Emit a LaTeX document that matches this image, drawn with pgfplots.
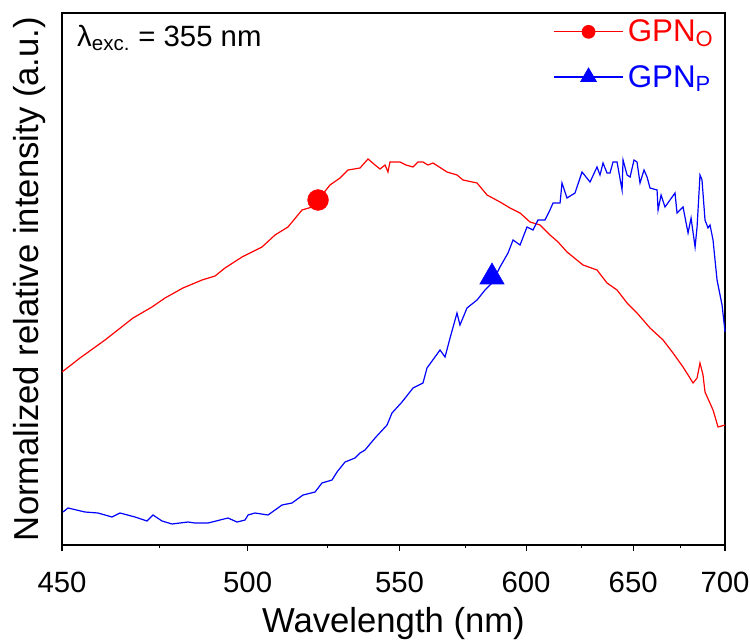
\documentclass[border=0pt]{standalone}
\usepackage{fontspec}
\setmainfont{Liberation Sans}
\usepackage{pgfplots}
\usepackage{pgfplotstable}
\pgfplotsset{compat=1.18}
% x = 1000/wavelength (1/um); axis is linear in photon energy
\pgfplotstableread{
x y
2.2222 173
2.2007 187
2.1707 205
2.1372 227
2.1145 238
2.0989 247
2.0774 257
2.0546 265
2.0390 269
2.0271 277
2.0067 288
1.9828 298
1.9672 310
1.9517 318
1.9349 335
1.9229 338
1.9157 345
1.9014 360
1.8894 367
1.8798 375
1.8655 377
1.8559 386
1.8475 380
1.8415 376
1.8355 380
1.8320 373
1.8296 383
1.8176 383
1.8104 380
1.8020 378
1.7960 383
1.7901 383
1.7841 380
1.7781 382
1.7613 373
1.7494 370
1.7422 365
1.7254 362
1.7134 350
1.6979 343
1.6859 337
1.6739 332
1.6620 323
1.6500 320
1.6380 310
1.6284 303
1.6177 293
1.5985 280
1.5818 275
1.5698 262
1.5578 255
1.5458 242
1.5339 232
1.5183 217
1.5027 205
1.4908 192
1.4788 178
1.4668 162
1.4620 167
1.4585 182
1.4549 170
1.4525 153
1.4429 135
1.4369 118
1.4285 120
}\redtab
\pgfplotstableread{
x y
2.2210 33
2.2150 37
2.1947 33
2.1791 32
2.1623 28
2.1528 32
2.1348 28
2.1205 24
2.1133 30
2.1025 24
2.0905 21
2.0714 23
2.0630 22
2.0474 22
2.0235 27
2.0127 23
2.0031 25
1.9995 30
1.9912 32
1.9756 30
1.9588 40
1.9469 42
1.9337 50
1.9193 53
1.9110 62
1.8990 65
1.8930 73
1.8834 83
1.8715 87
1.8655 92
1.8595 95
1.8475 107
1.8331 120
1.8272 132
1.8152 143
1.8020 157
1.7901 162
1.7853 177
1.7697 195
1.7637 188
1.7577 207
1.7494 232
1.7458 220
1.7374 237
1.7254 245
1.7158 255
1.7075 262
1.6979 278
1.6883 292
1.6823 305
1.6739 300
1.6656 318
1.6584 315
1.6524 325
1.6440 325
1.6392 333
1.6344 342
1.6260 342
1.6237 362
1.6177 347
1.6081 352
1.5997 373
1.5901 363
1.5818 378
1.5782 370
1.5746 382
1.5698 372
1.5662 372
1.5626 383
1.5578 383
1.5518 355
1.5506 385
1.5458 370
1.5422 368
1.5375 385
1.5339 383
1.5303 362
1.5255 375
1.5219 368
1.5183 357
1.5099 355
1.5087 335
1.5051 350
1.5004 338
1.4944 345
1.4884 352
1.4860 332
1.4788 338
1.4728 312
1.4692 327
1.4644 298
1.4620 318
1.4585 370
1.4561 365
1.4525 325
1.4489 317
1.4465 320
1.4429 305
1.4381 265
1.4345 250
1.4321 240
1.4285 213
}\bluetab
\begin{document}
\begin{tikzpicture}
\begin{axis}[
  scale only axis, width=497.25pt, height=399pt,
  x dir=reverse,
  xmin=1.428571, xmax=2.222222, ymin=0, ymax=532,
  xtick={2.222222,2,1.818182,1.666667,1.538462,1.428571},
  xticklabels={450,500,550,600,650,700},
  minor xtick={2.105263,1.904762,1.739130,1.6,1.481481},
  ytick=\empty, xtick pos=bottom, tick align=outside,
  major tick length=4.5pt, minor tick length=2.5pt,
  every tick/.style={black, line width=0.8pt},
  axis line style={line width=0.9pt},
  tick label style={font=\fontsize{22}{24}\selectfont},
  xticklabel style={anchor=base, yshift=-31pt},
  xlabel={Wavelength (nm)},
  ylabel={Normalized relative intensity (a.u.)},
  label style={font=\fontsize{26}{28}\selectfont},
  xlabel style={at={(rel axis cs:0.5,0)}, anchor=center, yshift=-59pt},
  ylabel style={at={(rel axis cs:-0.0483,0.5)}, anchor=center},
  legend style={at={(rel axis cs:0.7406,0.99)}, anchor=north west, draw=none, fill=none,
    font=\fontsize{23.5}{25}\selectfont, row sep=14pt, inner sep=0pt,
    nodes={inner sep=1pt}},
  legend cell align=left,
  legend image code/.code={\draw[mark repeat=2,mark phase=2] plot coordinates {(0pt,0pt)(26pt,0pt)(52pt,0pt)};},
  clip=false,
]
\coordinate (bl) at (rel axis cs:0,0);
\coordinate (tr) at (rel axis cs:1,1);
\addplot[red, line width=0.9pt, forget plot] table[x=x,y=y] {\redtab};
\addplot[blue, line width=0.9pt, forget plot] table[x=x,y=y] {\bluetab};
\addplot[red, only marks, mark=*, mark size=7.8pt, forget plot] coordinates {(1.9157,345)};
\addplot[blue, only marks, mark=triangle*, mark size=10.5pt, forget plot] coordinates {(1.7075,268)};
\addlegendimage{red, line width=0.9pt, mark=*, mark size=4.7pt}
\addlegendentry{\hspace{2pt}\textcolor{red}{GPN\textsubscript{O}}}
\addlegendimage{blue, line width=0.9pt, mark=triangle*, mark size=6.5pt}
\addlegendentry{\hspace{2pt}\textcolor{blue}{GPN\textsubscript{P}}}
\node[anchor=west, font=\fontsize{22}{24}\selectfont, inner sep=0pt] at (rel axis cs:0.0226,0.953) {λ\textsubscript{exc.} = 355 nm};
\end{axis}
\pgfresetboundingbox
\path ([shift={(-46.5pt,-71.25pt)}]bl) rectangle ([shift={(18.75pt,9.75pt)}]tr);
\end{tikzpicture}
\end{document}
